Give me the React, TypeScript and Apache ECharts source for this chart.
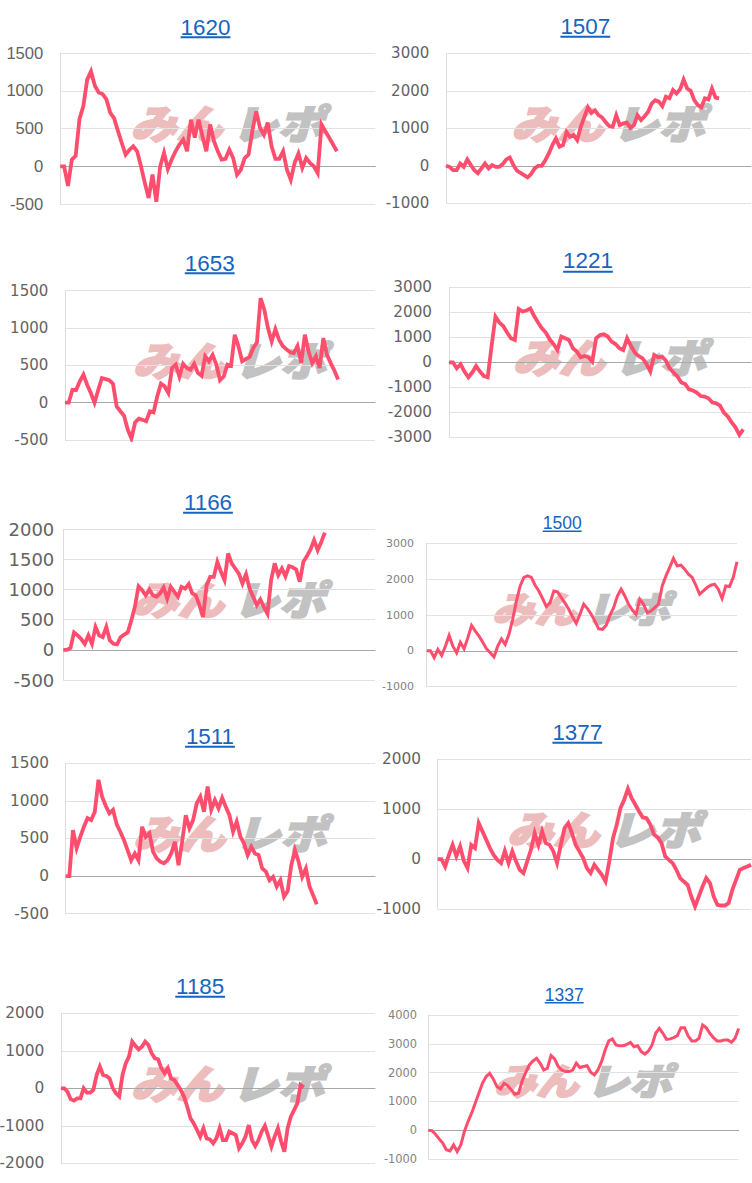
import React, { useEffect, useRef } from "react";
import * as echarts from "echarts";

// ---- data (cumulative values per day) ----
const d1620 = [0, 0, -260, 90, 140, 630, 800, 1150, 1260, 1070, 980, 960, 890, 710, 640, 470, 310, 155, 220, 265, 200, 0, -220, -420, -110, -470, 0, 180, -35, 90, 200, 290, 355, 200, 620, 380, 620, 400, 200, 555, 335, 200, 90, 100, 220, 110, -110, -45, 110, 155, 470, 730, 510, 420, 580, 265, 100, 100, 200, -45, -180, 45, 170, -20, 110, 45, 0, -90, 555, 465, 380, 290, 200];
const d1507 = [0, -30, -115, -115, 60, -30, 170, 20, -115, -200, -70, 60, -70, 20, -30, -30, 45, 170, 220, 20, -130, -190, -250, -310, -220, -70, 0, 0, 150, 330, 550, 730, 510, 550, 900, 770, 820, 685, 1040, 1300, 1560, 1410, 1480, 1350, 1290, 1170, 1060, 1040, 1350, 1085, 1130, 1150, 1010, 1085, 1350, 1220, 1320, 1440, 1660, 1750, 1710, 1590, 1840, 1800, 2020, 1930, 2040, 2300, 2060, 2000, 1750, 1620, 1560, 1800, 1770, 2060, 1820, 1800];
const d1653 = [0, 0, 170, 170, 285, 375, 240, 130, 0, 170, 330, 315, 300, 255, -50, -115, -175, -360, -480, -265, -215, -230, -250, -115, -130, 85, 255, 220, 130, 465, 510, 350, 520, 465, 440, 520, 400, 360, 620, 555, 640, 510, 300, 350, 510, 495, 910, 755, 555, 585, 610, 730, 805, 1400, 1245, 1000, 820, 985, 845, 760, 715, 675, 665, 760, 530, 910, 685, 530, 620, 465, 865, 640, 530, 430, 310];
const d1221 = [0, 0, -240, -80, -370, -600, -410, -150, -370, -550, -600, 650, 1830, 1590, 1450, 1190, 960, 890, 2130, 2030, 2070, 2160, 1850, 1590, 1360, 1190, 920, 730, 490, 1030, 960, 890, 560, 430, 200, 250, 200, 30, 960, 1090, 1120, 1030, 830, 730, 560, 490, 960, 650, 390, 250, 160, -70, -370, 290, 200, 230, 70, -240, -410, -570, -810, -870, -1080, -1130, -1210, -1350, -1370, -1440, -1600, -1640, -1730, -2010, -2170, -2400, -2600, -2900, -2680];
const d1166 = [0, 0, 30, 290, 240, 180, 100, 240, 100, 380, 240, 210, 380, 155, 100, 90, 210, 255, 290, 490, 720, 1055, 990, 905, 1000, 905, 880, 935, 1035, 850, 1045, 960, 880, 1045, 1015, 1090, 935, 905, 740, 545, 1070, 1210, 1210, 1460, 1295, 1155, 1600, 1435, 1350, 1265, 1100, 1255, 1015, 880, 740, 835, 710, 600, 1155, 1435, 1240, 1350, 1220, 1390, 1370, 1335, 1130, 1460, 1555, 1665, 1820, 1655, 1790, 1945];
const d1500 = [0, 0, -190, 40, -130, 130, 430, 130, -55, 240, 55, 365, 710, 550, 410, 240, 55, -55, -170, 130, 335, 180, 460, 880, 1390, 1810, 2050, 2090, 2050, 1830, 1670, 1460, 1235, 1345, 1670, 1645, 1485, 1330, 1160, 950, 765, 1020, 1300, 1180, 1020, 830, 615, 600, 710, 990, 1205, 1530, 1720, 1530, 1300, 1140, 1020, 1440, 1300, 1065, 1110, 1205, 1300, 1810, 2090, 2330, 2580, 2370, 2390, 2280, 2140, 2050, 1830, 1580, 1670, 1765, 1830, 1860, 1720, 1460, 1810, 1795, 2050, 2485];
const d1511 = [0, 0, 610, 370, 520, 655, 770, 745, 855, 1280, 1055, 935, 835, 880, 690, 590, 480, 345, 210, 300, 210, 655, 520, 570, 325, 235, 190, 170, 210, 300, 455, 145, 455, 810, 635, 745, 965, 1055, 855, 1190, 880, 1010, 900, 1040, 920, 810, 590, 725, 525, 435, 280, 390, 300, 280, 100, 60, -55, -10, -140, -55, -275, -200, 145, 345, 190, -10, 100, -140, -255, -375];
const d1377 = [0, 0, -150, 85, 285, 55, 255, -35, -180, 285, 220, 720, 555, 390, 220, 85, -15, -80, 165, -80, 155, -45, -215, -280, -45, 185, 520, 285, 555, 320, 285, 155, -80, 285, 620, 720, 520, 285, 155, 20, -180, -280, -115, -215, -315, -450, -45, 420, 690, 1020, 1190, 1410, 1220, 1090, 955, 835, 820, 690, 490, 435, 320, 55, -15, -80, -215, -380, -450, -515, -750, -950, -750, -550, -380, -480, -750, -915, -930, -930, -880, -615, -415, -215, -180, -150, -115];
const d1185 = [0, 0, -90, -290, -330, -270, -270, 0, -115, -115, -45, 355, 580, 355, 330, 265, 0, -135, -220, 355, 665, 845, 1245, 1130, 1040, 1110, 1245, 1155, 935, 800, 775, 535, 400, 535, 265, 220, 90, -45, -220, -490, -800, -935, -1110, -1290, -1065, -1335, -1360, -1465, -1335, -1065, -1380, -1380, -1155, -1200, -1245, -1600, -1465, -1290, -980, -1380, -1540, -1380, -1155, -1000, -1270, -1555, -1290, -1065, -1420, -1690, -1065, -755, -580, -400, 90, 25];
const d1337 = [0, -20, -140, -300, -450, -680, -720, -510, -740, -510, -45, 300, 590, 935, 1280, 1630, 1860, 1975, 1780, 1515, 1435, 1630, 1550, 1400, 1250, 1285, 1710, 2010, 2265, 2405, 2495, 2325, 2090, 2150, 2590, 2475, 2210, 2090, 2035, 2035, 2090, 2325, 2175, 2210, 2240, 2010, 1920, 2090, 2380, 2785, 3100, 3170, 2960, 2935, 2935, 2980, 3050, 2900, 2935, 2730, 2645, 2750, 2960, 3365, 3535, 3365, 3155, 3170, 3215, 3280, 3560, 3560, 3270, 3100, 3100, 3190, 3650, 3560, 3365, 3215, 3100, 3100, 3130, 3130, 3050, 3190, 3535];

const titles = ["1620", "1507", "1653", "1221", "1166", "1500", "1511", "1377", "1185", "1337"];
const seriesData = [d1620, d1507, d1653, d1221, d1166, d1500, d1511, d1377, d1185, d1337];
const slotCounts = [83, 87, 85, 79, 88, 84, 86, 85, 98, 87];
const yMins = [-500, -1000, -500, -3000, -500, -1000, -500, -1000, -2000, -1000];
const yMaxs = [1500, 3000, 1500, 3000, 2000, 3000, 1500, 2000, 2000, 4000];
const yIntervals = [500, 1000, 500, 1000, 500, 1000, 500, 1000, 1000, 1000];

// ---- layout / style (per panel) ----
type Panel = {
  grid: [number, number, number, number];
  title: [number, number, number];
  small: boolean;
  lFont: number;
  lFamily: string;
  lMargin: number;
};
const layout: Panel[] = [
  { grid: [60.3, 53.3, 315, 150.7], title: [205.5, 27, 37.3], small: false, lFont: 16.6, lFamily: "Liberation Sans", lMargin: 17 },
  { grid: [446, 53.3, 305, 150], title: [585.3, 26.7, 36.7], small: false, lFont: 15, lFamily: "DejaVu Sans", lMargin: 16.7 },
  { grid: [65, 290.7, 310, 149.3], title: [209.7, 263, 273.3], small: false, lFont: 15, lFamily: "DejaVu Sans", lMargin: 16.7 },
  { grid: [449, 287.3, 302, 150], title: [588, 260.7, 271.7], small: false, lFont: 15.2, lFamily: "DejaVu Sans", lMargin: 17 },
  { grid: [63.3, 529.3, 311.7, 150.7], title: [208, 502, 512.7], small: false, lFont: 18, lFamily: "DejaVu Sans", lMargin: 9 },
  { grid: [426.7, 543.3, 310.3, 143.4], title: [562.2, 523, 531.3], small: true, lFont: 11, lFamily: "DejaVu Sans", lMargin: 12.7 },
  { grid: [65.7, 763.3, 309.3, 150.3], title: [210, 736, 746.7], small: false, lFont: 15.3, lFamily: "DejaVu Sans", lMargin: 16.7 },
  { grid: [437.7, 759.3, 313.3, 149.7], title: [577.3, 732, 742.7], small: false, lFont: 15.3, lFamily: "DejaVu Sans", lMargin: 16.7 },
  { grid: [61, 1013.3, 314, 150], title: [200.2, 986.3, 996.7], small: false, lFont: 15.4, lFamily: "DejaVu Sans", lMargin: 16.7 },
  { grid: [428.3, 1015, 310.4, 144], title: [564.2, 995, 1002.7], small: true, lFont: 11.4, lFamily: "DejaVu Sans", lMargin: 11.3 },
];

const LINE_COLOR = "#ff4d6d";
const LINK_COLOR = "#1565c0";

export default function App() {
  const ref = useRef<HTMLDivElement>(null);

  useEffect(() => {
    if (!ref.current) return;
    const chart = echarts.init(ref.current, undefined, { renderer: "svg" });

    const grids = layout.map((p) => ({
      left: p.grid[0],
      top: p.grid[1],
      width: p.grid[2],
      height: p.grid[3],
      containLabel: false,
      outerBoundsMode: "none",
    }));

    const xAxes = layout.map((p, i) => ({
      type: "category",
      gridIndex: i,
      boundaryGap: false,
      data: Array.from({ length: slotCounts[i] }, (_, k) => String(k + 1)),
      axisLabel: { show: false },
      axisTick: { show: false },
      axisLine: { show: true, onZero: true, lineStyle: { color: "#a8a8a8", width: 1 } },
      splitLine: { show: false },
    }));

    const yAxes = layout.map((p, i) => ({
      type: "value",
      gridIndex: i,
      min: yMins[i],
      max: yMaxs[i],
      interval: yIntervals[i],
      axisLine: { show: true, lineStyle: { color: "#dcdcdc", width: 1 } },
      axisTick: { show: false },
      splitLine: { show: true, lineStyle: { color: "#e2e2e2", width: 1 } },
      axisLabel: {
        fontSize: p.lFont,
        fontFamily: p.lFamily,
        color: p.small ? "#828282" : "#636363",
        margin: p.lMargin,
        formatter: (v: number) => String(v),
      },
    }));

    const series = layout.map((p, i) => ({
      type: "line",
      xAxisIndex: i,
      yAxisIndex: i,
      data: seriesData[i],
      showSymbol: false,
      symbol: "none",
      silent: true,
      z: 5,
      lineStyle: { color: LINE_COLOR, width: p.small ? 3 : 3.8, join: "miter", cap: "butt" },
    }));

    const graphics: any[] = [];
    layout.forEach((p, i) => {
      const fs = p.small ? 17.5 : 22.4;
      const [tx, ty, uy] = p.title;
      const tw = fs * 0.556 * titles[i].length;
      graphics.push({
        type: "text",
        x: tx,
        y: ty,
        z: 10,
        style: {
          text: titles[i],
          fill: LINK_COLOR,
          fontSize: fs,
          fontFamily: "Liberation Sans, Arial, sans-serif",
          align: "center",
          verticalAlign: "middle",
        },
      });
      graphics.push({
        type: "line",
        z: 10,
        shape: { x1: tx - tw / 2, y1: uy, x2: tx + tw / 2, y2: uy },
        style: { stroke: LINK_COLOR, lineWidth: p.small ? 1.5 : 2 },
      });
      // watermark logo
      const cx = p.grid[0] + p.grid[2] / 2 + (p.small ? -3 : 7);
      const cy = p.grid[1] + p.grid[3] / 2 + (p.small ? -8 : -7);
      const s = p.small ? 0.92 : 1;
      graphics.push({
        type: "group",
        x: cx,
        y: cy,
        scaleX: s * 1.15,
        scaleY: s,
        z: 1,
        children: [
          {
            type: "text",
            x: -2,
            y: 0,
            style: {
              text: "みん",
              fill: "#edbdbd",
              stroke: "#edbdbd",
              lineWidth: 2,
              fontSize: 40,
              fontWeight: 900,
              fontStyle: "italic",
              fontFamily: "Noto Sans CJK JP",
              align: "right",
              verticalAlign: "middle",
            },
          },
          {
            type: "text",
            x: 6,
            y: 0,
            style: {
              text: "レポ",
              fill: "#c2c2c2",
              stroke: "#c2c2c2",
              lineWidth: 2,
              fontSize: 40,
              fontWeight: 900,
              fontStyle: "italic",
              fontFamily: "Noto Sans CJK JP",
              align: "left",
              verticalAlign: "middle",
            },
          },
        ],
      });
    });

    chart.setOption({
      animation: false,
      backgroundColor: "#ffffff",
      grid: grids,
      xAxis: xAxes,
      yAxis: yAxes,
      series,
      graphic: graphics,
    } as any);

    return () => chart.dispose();
  }, []);

  return (
    <div
      ref={ref}
      style={{ position: "absolute", left: 0, top: 0, width: 752, height: 1183 }}
    />
  );
}
